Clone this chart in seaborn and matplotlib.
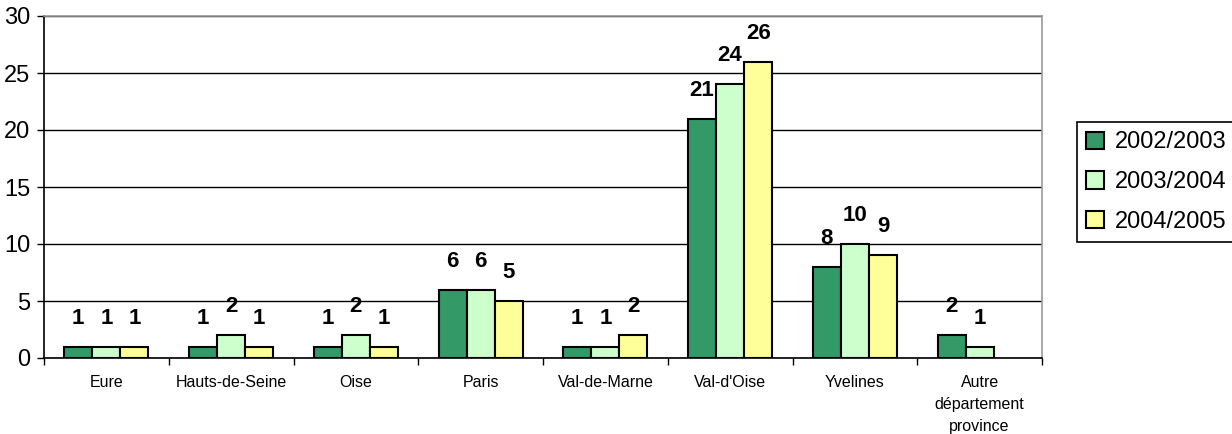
import numpy as np
import pandas as pd
import matplotlib
matplotlib.use("Agg")
import matplotlib.pyplot as plt
import seaborn as sns
from matplotlib.ticker import FixedLocator

departements = ["Eure", "Hauts-de-Seine", "Oise", "Paris", "Val-de-Marne",
                "Val-d'Oise", "Yvelines", "Autre\ndépartement\nprovince"]
annees = ["2002/2003", "2003/2004", "2004/2005"]
v_2002_2003 = [1, 1, 1, 6, 1, 21, 8, 2]
v_2003_2004 = [1, 2, 2, 6, 1, 24, 10, 1]
v_2004_2005 = [1, 1, 1, 5, 2, 26, 9, np.nan]
couleurs = ["#339966", "#CCFFCC", "#FFFF99"]

df = pd.DataFrame({
    "departement": departements * 3,
    "annee": np.repeat(annees, len(departements)),
    "effectif": v_2002_2003 + v_2003_2004 + v_2004_2005,
})

sns.set_theme(style="white")
plt.rcParams["font.family"] = ["Liberation Sans", "DejaVu Sans"]
plt.rcParams["text.color"] = "black"
plt.rcParams["xtick.color"] = "black"
plt.rcParams["ytick.color"] = "black"
plt.rcParams["axes.labelcolor"] = "black"

fig = plt.figure(figsize=(12.32, 4.34), dpi=100)
ax = fig.add_axes([44 / 1232, 1 - 358 / 434, (1042 - 44) / 1232, (358 - 16) / 434])

sns.barplot(data=df.dropna(), x="departement", y="effectif", hue="annee",
            order=departements, hue_order=annees, palette=couleurs,
            width=0.675, edgecolor="black", linewidth=1.5, saturation=1,
            ax=ax, legend=True)

for cont in ax.containers:
    ax.bar_label(cont, fmt="%d", padding=13, fontsize=16, fontweight="bold",
                 color="black")

ax.set_ylim(0, 30)
ax.set_xlim(-0.5, len(departements) - 0.5)
ax.set_yticks(range(0, 31, 5))
ax.tick_params(axis="y", labelsize=17, length=5, width=1, color="black",
               direction="out", left=True, pad=5)
ax.tick_params(axis="x", which="major", length=0, labelsize=11.5, pad=12)
for lbl in ax.get_xticklabels():
    lbl.set_linespacing(1.6)
ax.xaxis.set_minor_locator(FixedLocator(np.arange(-0.5, len(departements), 1)))
ax.tick_params(axis="x", which="minor", length=5, width=1, color="black",
               direction="out", bottom=True)
ax.set_xlabel("")
ax.set_ylabel("")

ax.yaxis.grid(True, color="black", linewidth=1)
ax.set_axisbelow(True)
for side in ["left", "bottom"]:
    ax.spines[side].set_color("black")
    ax.spines[side].set_linewidth(1.2)
for side in ["top", "right"]:
    ax.spines[side].set_color("#999999")
    ax.spines[side].set_linewidth(1.2)

handles, labels = ax.get_legend_handles_labels()
leg = ax.legend(handles, labels, loc="upper left",
                bbox_to_anchor=(1077 / 1232, 1 - 122 / 434),
                bbox_transform=fig.transFigure, fontsize=17, frameon=True,
                fancybox=False, edgecolor="black", framealpha=1,
                handlelength=0.75, handleheight=0.75, handletextpad=0.45,
                labelspacing=0.75, borderpad=0.4, borderaxespad=0)
leg.get_frame().set_linewidth(1.2)

fig.savefig("out.png", dpi=100)
